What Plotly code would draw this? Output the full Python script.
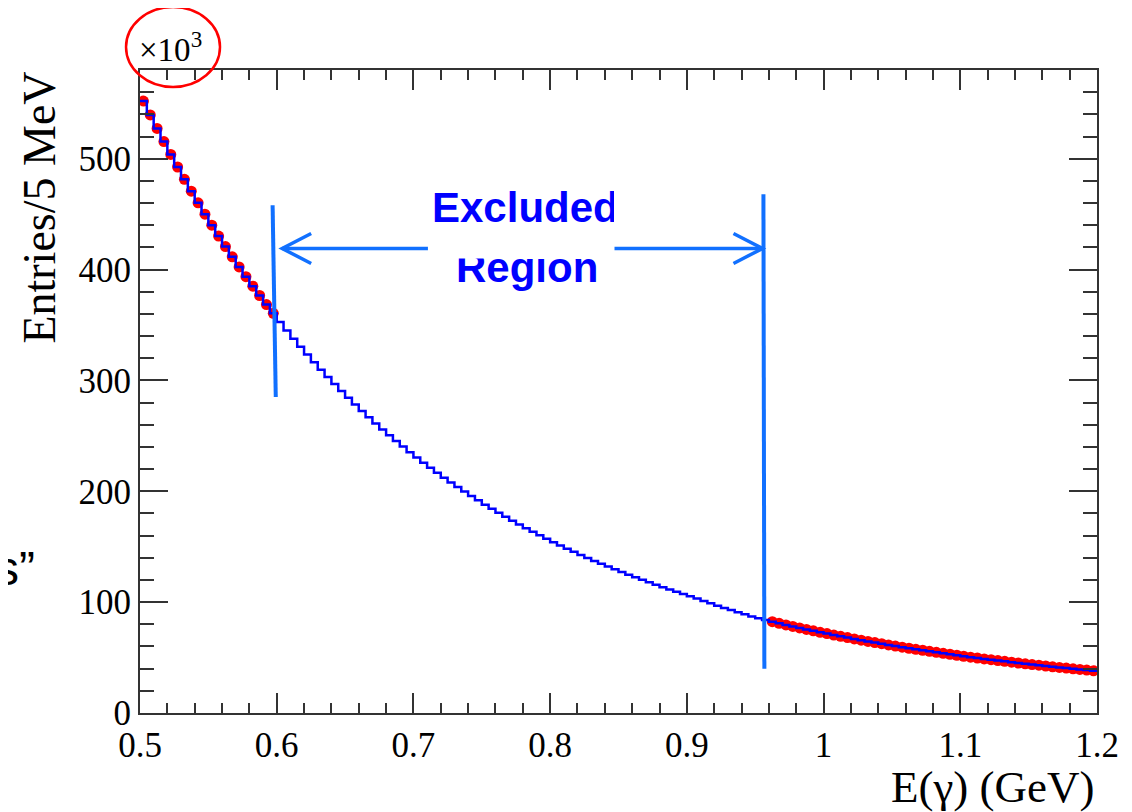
import numpy as np
import plotly.graph_objects as go

# Histograma de E(gamma), bins de 5 MeV entre 0.5 y 1.2 GeV (entradas en miles)
bin_inicio = 0.5
bin_ancho = 0.005

# Zona ajustada baja (0.50 - 0.60 GeV)
entradas_baja = [552.0, 539.5, 527.3, 515.4, 503.8, 492.5, 481.4, 470.7, 460.2, 449.9,
                 440.0, 430.2, 420.7, 411.5, 402.4, 393.6, 385.0, 376.6, 368.4, 360.5]

# Zona excluida (0.60 - 0.96 GeV)
entradas_excluida = [352.7, 345.1, 337.6, 330.4, 323.3, 316.4, 309.7, 303.1, 296.7, 290.4,
                     284.3, 278.3, 272.5, 266.8, 261.2, 255.8, 250.5, 245.3, 240.3, 235.3,
                     230.5, 225.8, 221.2, 216.7, 212.3, 208.0, 203.8, 199.7, 195.7, 191.8,
                     187.9, 184.2, 180.6, 177.0, 173.5, 170.1, 166.7, 163.5, 160.3, 157.2,
                     154.1, 151.1, 148.2, 145.4, 142.6, 139.9, 137.2, 134.6, 132.1, 129.6,
                     127.1, 124.7, 122.4, 120.1, 117.9, 115.7, 113.5, 111.4, 109.4, 107.4,
                     105.4, 103.2, 101.0, 98.9, 96.8, 94.8, 92.8, 90.9, 89.0, 87.1,
                     85.4, 83.8]

# Zona ajustada alta (0.96 - 1.20 GeV)
entradas_alta = [82.4, 80.9, 79.4, 78.1, 76.7, 75.4, 74.1, 72.8,
                 71.6, 70.3, 69.2, 68.0, 66.8, 65.7, 64.6, 63.5, 62.5, 61.4,
                 60.4, 59.4, 58.4, 57.4, 56.6, 55.6, 54.7, 53.8, 53.0, 52.1,
                 51.2, 50.4, 49.6, 48.8, 48.1, 47.3, 46.6, 45.8, 45.1, 44.4,
                 43.7, 43.1, 42.4, 41.7, 41.1, 40.5, 39.9, 39.3, 38.7, 38.1]

ticks_x = [0.5, 0.6, 0.7, 0.8, 0.9, 1.0, 1.1, 1.2]
ticks_x_texto = ["0.5", "0.6", "0.7", "0.8", "0.9", "1", "1.1", "1.2"]
ticks_y = [0, 100, 200, 300, 400, 500]

# Bins completos
entradas = entradas_baja + entradas_excluida + entradas_alta
n_bins = len(entradas)
bordes = bin_inicio + bin_ancho * np.arange(n_bins + 1)
centros = bordes[:-1] + bin_ancho / 2

n_baja = len(entradas_baja)
n_alta = len(entradas_alta)
x_puntos = np.concatenate([centros[:n_baja], centros[-n_alta:]])
y_puntos = entradas_baja + entradas_alta

fig = go.Figure()

# Puntos rojos (zonas usadas en el ajuste)
fig.add_trace(go.Scatter(x=x_puntos, y=y_puntos, mode="markers",
                         marker=dict(color="#ff0000", size=11, line=dict(width=0)),
                         hoverinfo="skip", showlegend=False))

# Histograma azul en escalones
fig.add_trace(go.Scatter(x=list(bordes), y=entradas + [entradas[-1]], mode="lines",
                         line=dict(color="#0000ff", width=2.5, shape="hv"),
                         hoverinfo="skip", showlegend=False))

serif = "Liberation Serif, Times New Roman, serif"
fuente_eje = dict(family=serif, size=35, color="black")

fig.update_xaxes(range=[0.5, 1.2], tickvals=ticks_x, ticktext=ticks_x_texto,
                 ticks="inside", ticklen=20, tickwidth=2, tickcolor="#333",
                 showline=True, linecolor="#333", linewidth=2, mirror="ticks",
                 showgrid=False, zeroline=False, tickfont=fuente_eje,
                 minor=dict(dtick=0.02, tick0=0.5, ticks="inside", ticklen=10,
                            tickwidth=2, tickcolor="#333", showgrid=False))
fig.update_yaxes(range=[0, 580], tickvals=ticks_y,
                 ticks="inside", ticklen=28, tickwidth=2, tickcolor="#333",
                 showline=True, linecolor="#333", linewidth=2, mirror="ticks",
                 showgrid=False, zeroline=False, tickfont=fuente_eje,
                 minor=dict(dtick=20, tick0=0, ticks="inside", ticklen=14,
                            tickwidth=2, tickcolor="#333", showgrid=False))

azul_linea = "#1170ff"
# Lineas verticales que delimitan la zona excluida
fig.add_shape(type="line", x0=0.597, y0=458, x1=0.5993, y1=285,
              line=dict(color=azul_linea, width=4))
fig.add_shape(type="line", x0=0.956, y0=468, x1=0.9567, y1=40,
              line=dict(color=azul_linea, width=4))
# Flechas
fig.add_shape(type="line", x0=0.604, y0=419, x1=0.7106, y1=419,
              line=dict(color=azul_linea, width=3.5))
fig.add_shape(type="line", x0=0.8447, y0=419, x1=0.9553, y1=419,
              line=dict(color=azul_linea, width=3.5))
fig.add_shape(type="path", path="M 0.6252,432.5 L 0.604,419 L 0.6252,405.5",
              line=dict(color=azul_linea, width=3.5))
fig.add_shape(type="path", path="M 0.9341,432.5 L 0.9553,419 L 0.9341,405.5",
              line=dict(color=azul_linea, width=3.5))

# Circulo rojo alrededor del factor de escala
fig.add_shape(type="circle", xref="paper", yref="paper",
              x0=-0.0146, x1=0.0836, y0=0.9736, y1=1.098,
              line=dict(color="#ff0000", width=2.5))

fuente_texto = dict(family="Liberation Sans, Arial, sans-serif", size=42, color="#0000ff")
fig.add_annotation(x=0.7828, y=402, text="<b>Region</b>", showarrow=False,
                   font=fuente_texto, xanchor="center", yanchor="middle")
# "Excluded" con fondo blanco que tapa la parte superior de "Region"
fig.add_annotation(x=0.7802, y=478, text="<b>Excluded</b>", showarrow=False,
                   font=fuente_texto, xanchor="center", yanchor="top",
                   width=182, height=74, valign="top", align="left",
                   bgcolor="white", borderpad=0)

fig.add_annotation(xref="paper", yref="paper", x=-0.003, y=1.0, text="×10<sup>3</sup>",
                   showarrow=False, xanchor="left", yanchor="bottom",
                   font=dict(family=serif, size=33, color="black"))
fig.add_annotation(xref="paper", yref="paper", x=-0.1045, y=0.786, text="Entries/5 MeV",
                   textangle=-90, showarrow=False, xanchor="center", yanchor="middle",
                   font=dict(family=serif, size=46, color="black"))
fig.add_annotation(xref="paper", yref="paper", x=1.0, y=-0.115, text="E(γ) (GeV)",
                   showarrow=False, xanchor="right", yanchor="middle",
                   font=dict(family=serif, size=45, color="black"))
# Resto de un texto de la diapositiva, cortado en el borde izquierdo
fig.add_annotation(xref="paper", yref="paper", x=-0.1075, y=0.2255, text="s”",
                   showarrow=False, xanchor="right", yanchor="middle",
                   font=dict(family="Liberation Sans, Arial, sans-serif", size=48, color="black"))

# La pagina tiene 8 px de margen, se descuentan del tamaño de la figura
fig.update_layout(width=1124, height=804, plot_bgcolor="white", paper_bgcolor="white",
                  margin=dict(l=132, r=35, t=62, b=99), showlegend=False)

fig.write_html("out.html")
